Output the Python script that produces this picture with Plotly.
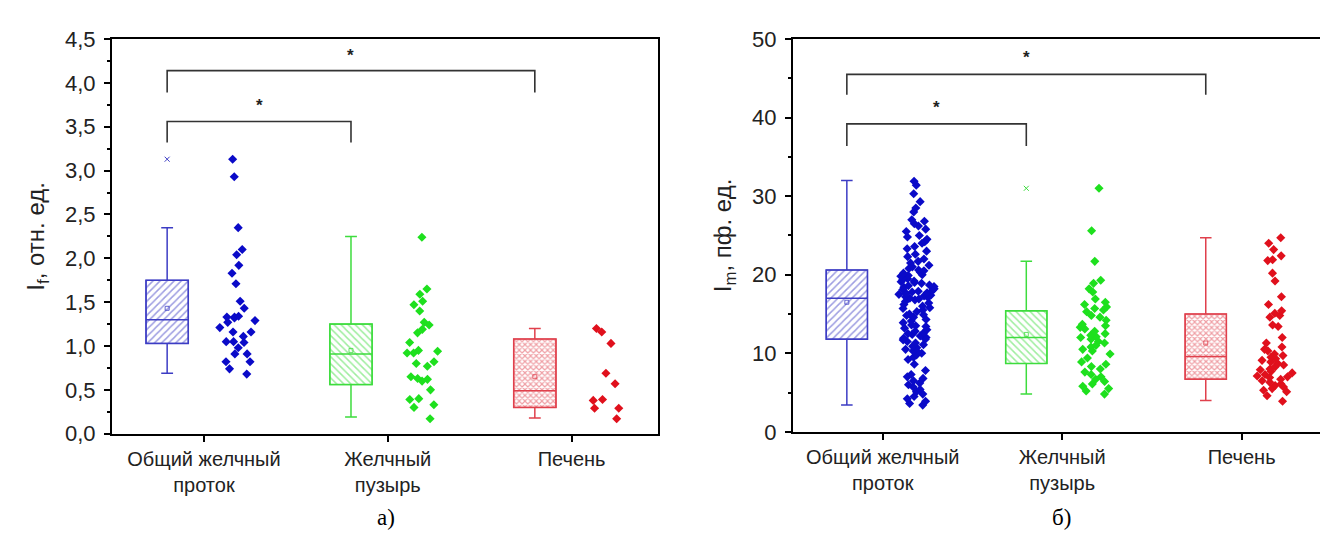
import plotly.graph_objects as go

categories = ["Общий желчный<br>проток", "Желчный<br>пузырь", "Печень"]
cat_pos = [1, 2, 3]
colors_line = ["#3c3cc4", "#3ddc3d", "#e0404c"]
colors_dot = ["#0a0ac8", "#1ee01e", "#e0101c"]
patterns = ["/", "\\", "x"]

# ---- panel a) I_f, отн. ед.
a_blue = [3.13, 2.93, 2.35, 2.10, 2.04, 1.92, 1.83, 1.71, 1.51, 1.43, 1.34, 1.33, 1.33, 1.32, 1.29,
          1.27, 1.21, 1.16, 1.16, 1.11, 1.05, 1.05, 1.04, 0.98, 0.91, 0.91, 0.82, 0.82, 0.74, 0.68]
a_green = [2.24, 1.65, 1.59, 1.51, 1.47, 1.40, 1.27, 1.24, 1.19, 1.15, 1.04, 0.95, 0.94, 0.92, 0.92,
           0.82, 0.80, 0.77, 0.65, 0.63, 0.62, 0.60, 0.50, 0.40, 0.39, 0.33, 0.30, 0.17]
a_red = [1.20, 1.16, 1.03, 0.69, 0.57, 0.38, 0.39, 0.29, 0.29, 0.17]
a_q1 = [1.03, 0.56, 0.30]
a_med = [1.30, 0.91, 0.49]
a_q3 = [1.75, 1.25, 1.08]
a_lo = [0.69, 0.19, 0.18]
a_hi = [2.35, 2.25, 1.20]
a_mean = [1.43, 0.95, 0.65]
a_out = [[3.13], [], []]

# ---- panel б) I_m, пф. ед.
b_blue = [31.9, 31.4, 30.3, 29.3, 28.5, 28.0, 27.0, 26.8, 26.5, 26.2, 25.8, 25.5, 25.0, 24.8, 24.5,
          24.2, 24.0, 23.6, 23.3, 23.0, 22.6, 22.3, 22.0, 21.7, 21.5, 21.2, 21.0, 20.8, 20.6,
          20.5, 20.3, 20.2, 20.0, 19.9, 19.8, 19.7, 19.5, 19.4, 19.2, 19.1, 19.0, 18.9, 18.7, 18.6,
          18.5, 18.4, 18.2, 18.1, 18.0, 17.9, 17.8, 17.7, 17.6, 17.5, 17.4, 17.3, 17.2, 17.1, 17.0,
          16.9, 16.8, 16.6, 16.4, 16.2, 16.0, 15.8, 15.7, 15.5, 15.3, 15.0, 14.9, 14.8, 14.6, 14.3,
          14.1, 13.9, 13.6, 13.5, 13.4, 13.2, 13.0, 12.8, 12.6, 12.5, 12.4, 12.2, 12.0, 11.9, 11.8,
          11.7, 11.5, 11.3, 11.1, 10.9, 10.7, 10.5, 10.3, 10.1, 10.0, 9.8, 9.5, 9.2, 8.6, 7.8,
          7.3, 7.0, 6.8, 6.5, 6.2, 6.0, 5.7, 5.4, 5.1, 4.8, 4.5, 4.2, 3.9, 3.6, 3.4]
b_green = [31.0, 25.6, 21.7, 19.3, 18.9, 18.2, 17.8, 16.9, 16.5, 16.2, 15.9, 15.7, 15.5, 15.3, 14.8,
           14.6, 14.2, 13.7, 13.5, 13.3, 13.1, 12.8, 12.5, 12.3, 12.1, 12.0, 11.8, 11.5, 11.3, 11.0,
           10.8, 10.5, 10.3, 9.9, 9.4, 8.9, 8.6, 8.3, 8.0, 7.6, 7.3, 7.0, 6.7, 6.4, 6.1, 5.8, 5.5,
           5.2, 4.8]
b_red = [24.7, 24.0, 23.2, 22.4, 21.9, 21.8, 20.2, 19.2, 17.2, 16.2, 15.4, 15.1, 14.8, 14.6, 13.6,
         13.4, 12.0, 11.3, 10.8, 10.5, 10.3, 9.9, 9.7, 9.5, 9.3, 9.1, 8.9, 8.7, 8.5, 8.3, 8.0, 7.9,
         7.7, 7.5, 7.3, 7.1, 7.0, 6.9, 6.7, 6.5, 6.3, 6.1, 5.9, 5.7, 5.5, 5.3, 5.1, 4.6, 3.9]
b_q1 = [11.8, 8.7, 6.7]
b_med = [17.0, 12.0, 9.6]
b_q3 = [20.6, 15.4, 15.0]
b_lo = [3.4, 4.8, 4.0]
b_hi = [32.0, 21.7, 24.7]
b_mean = [16.5, 12.4, 11.3]
b_out = [[], [31.0], []]

# significance brackets: (from category, to category, bar level, leg end, star level)
a_brackets = [(1, 2, 3.56, 3.32, 3.74), (1, 3, 4.14, 3.89, 4.31)]
b_brackets = [(1, 2, 39.2, 36.4, 41.3), (1, 3, 45.5, 42.9, 47.6)]

BOX_OFF = -0.2
DOT_OFF = 0.19
BOX_W = 0.23
FONT = "Liberation Sans, Arial"

fig = go.Figure()

def add_panel(xa, ya, pts, q1, med, q3, lo, hi, mean, outs):
    for i in range(3):
        bx = cat_pos[i] + BOX_OFF
        fig.add_trace(go.Bar(
            x=[bx], y=[q3[i] - q1[i]], base=[q1[i]], width=BOX_W,
            marker=dict(color="white", line=dict(color=colors_line[i], width=1.2),
                        pattern=dict(shape=patterns[i], fgcolor=colors_line[i], bgcolor="white",
                                     size=5 if i < 2 else 4, solidity=0.3 if i < 2 else 0.5)),
            xaxis=xa, yaxis=ya, showlegend=False, hoverinfo="skip"))
        fig.add_trace(go.Box(
            x=[bx], q1=[q1[i]], median=[med[i]], q3=[q3[i]],
            lowerfence=[lo[i]], upperfence=[hi[i]], width=BOX_W,
            fillcolor="rgba(0,0,0,0)", line=dict(color=colors_line[i], width=1.5),
            whiskerwidth=0.28, boxpoints=False,
            xaxis=xa, yaxis=ya, showlegend=False))
        fig.add_trace(go.Scatter(
            x=[bx], y=[mean[i]], mode="markers",
            marker=dict(symbol="square-open", size=4, color=colors_line[i], line=dict(width=0.8)),
            xaxis=xa, yaxis=ya, showlegend=False, hoverinfo="skip"))
        if outs[i]:
            fig.add_trace(go.Scatter(
                x=[bx] * len(outs[i]), y=outs[i], mode="markers",
                marker=dict(symbol="x-thin", size=5, color=colors_line[i], line=dict(width=1, color=colors_line[i])),
                xaxis=xa, yaxis=ya, showlegend=False, hoverinfo="skip"))
        dx = cat_pos[i] + DOT_OFF
        fig.add_trace(go.Box(
            x=[dx] * len(pts[i]), y=pts[i], boxpoints="all", jitter=0.85, pointpos=0,
            width=0.25, fillcolor="rgba(0,0,0,0)", line=dict(width=0, color="rgba(0,0,0,0)"),
            marker=dict(symbol="diamond", size=7, color=colors_dot[i]),
            xaxis=xa, yaxis=ya, showlegend=False))

add_panel("x", "y", [a_blue, a_green, a_red], a_q1, a_med, a_q3, a_lo, a_hi, a_mean, a_out)
add_panel("x2", "y2", [b_blue, b_green, b_red], b_q1, b_med, b_q3, b_lo, b_hi, b_mean, b_out)

shapes = []
annotations = []
for xr, yr, brs in [("x", "y", a_brackets), ("x2", "y2", b_brackets)]:
    for c1, c2, top, leg, star in brs:
        x1 = c1 + BOX_OFF
        x2 = c2 + BOX_OFF
        shapes.append(dict(type="path", xref=xr, yref=yr,
                           path=f"M {x1} {leg} L {x1} {top} L {x2} {top} L {x2} {leg}",
                           line=dict(color="#333333", width=1.6)))
        annotations.append(dict(x=(x1 + x2) / 2, y=star, xref=xr, yref=yr, text="<b>*</b>",
                                showarrow=False, font=dict(size=17, color="#222222", family=FONT)))

for label, xpx in [("а)", 378), ("б)", 1053)]:
    annotations.append(dict(x=xpx / 1328, y=1 - 522 / 535, xref="paper", yref="paper", text=label,
                            xanchor="center", yanchor="middle", showarrow=False,
                            font=dict(size=23, color="black",
                                      family="Liberation Serif, Times New Roman")))

font_ytick = dict(size=22, color="#222222", family=FONT)
font_xtick = dict(size=20, color="#222222", family=FONT)
xcommon = dict(range=[0.5, 3.47], tickvals=cat_pos, ticktext=categories, ticks="outside",
               ticklen=6, tickwidth=1.5, tickcolor="black", showline=True, linecolor="black",
               linewidth=2, mirror=True, showgrid=False, zeroline=False, tickfont=font_xtick)
ycommon = dict(ticks="outside", ticklen=6, tickwidth=1.5, tickcolor="black", showline=True,
               linecolor="black", linewidth=2, mirror=True, showgrid=False, zeroline=False,
               tickfont=font_ytick, ticklabelstandoff=4)

fig.update_layout(
    width=1328, height=535, margin=dict(l=0, r=0, t=0, b=0),
    paper_bgcolor="white", plot_bgcolor="white", separators=", ",
    barmode="overlay", boxmode="overlay",
    xaxis=dict(domain=[104 / 1328, 650 / 1328], anchor="y", **xcommon),
    xaxis2=dict(domain=[785 / 1328, 1318 / 1328], anchor="y2", **xcommon),
    yaxis=dict(domain=[1 - 434 / 535, 1 - 20 / 535], anchor="x", range=[0, 4.5], dtick=0.5,
               tickformat=".1f",
               minor=dict(dtick=0.25, ticks="outside", ticklen=3, tickcolor="black"),
               title=dict(text="I<sub>f</sub>, отн. ед.", standoff=14,
                          font=dict(size=24, color="#222222", family=FONT)),
               **ycommon),
    yaxis2=dict(domain=[1 - 432 / 535, 1 - 20 / 535], anchor="x2", range=[0, 50], dtick=10,
                minor=dict(dtick=5, ticks="outside", ticklen=3, tickcolor="black"),
                title=dict(text="I<sub>m</sub>, пф. ед.", standoff=14,
                           font=dict(size=24, color="#222222", family=FONT)),
                **ycommon),
    shapes=shapes, annotations=annotations,
)

fig.write_html("out.html")
